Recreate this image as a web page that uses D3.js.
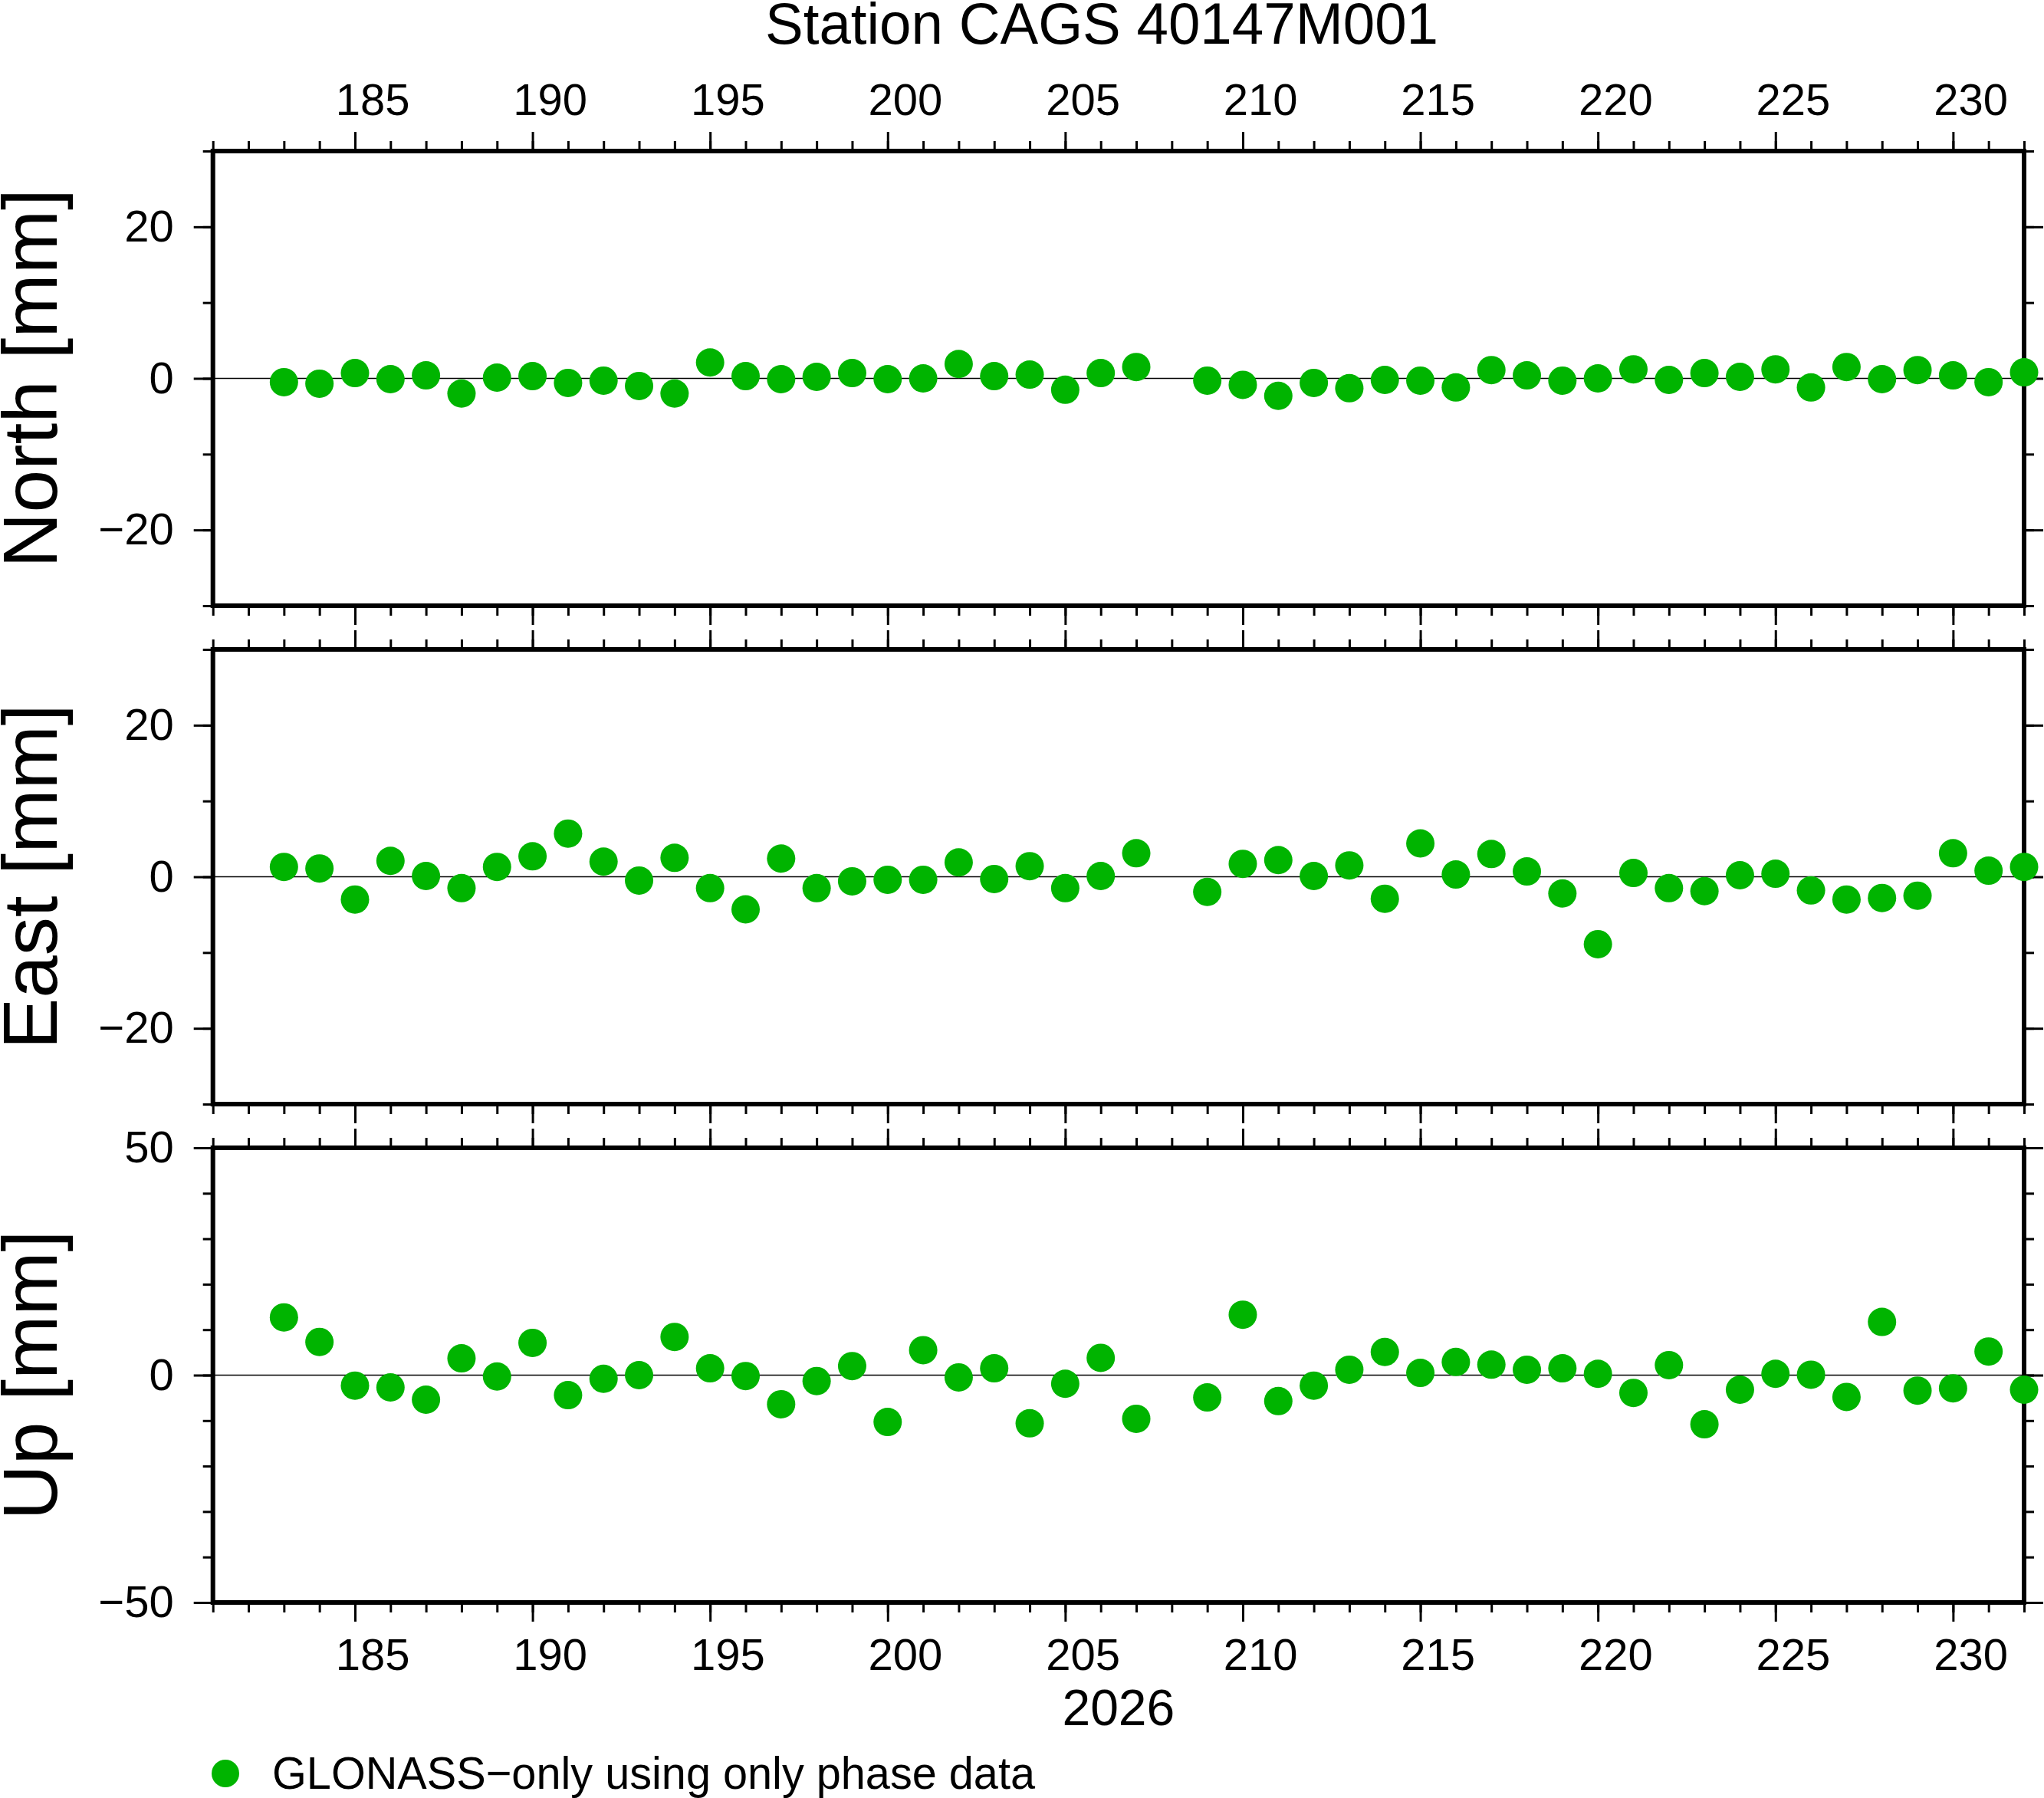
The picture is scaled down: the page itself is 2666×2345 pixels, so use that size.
<!DOCTYPE html>
<html lang="en">
<head>
    <meta charset="UTF-8">
    <title>Station CAGS 40147M001</title>
    <style>
        body {
            margin: 0;
            background: #fff;
        }
        svg {
            display: block;
            font-family: "Liberation Sans", Arial, Helvetica, sans-serif;
        }
        .tick line {
            stroke: #000;
            stroke-width: 3;
        }
    </style>
</head>
<body>
    <div id="chart"></div>

    <script src="https://d3js.org/d3.v7.min.js"></script>
    <script>
        // day of year 2026 (day 208 missing)
        const days = [183, 184, 185, 186, 187, 188, 189, 190, 191, 192, 193, 194, 195, 196, 197,
                      198, 199, 200, 201, 202, 203, 204, 205, 206, 207, 209, 210, 211, 212, 213,
                      214, 215, 216, 217, 218, 219, 220, 221, 222, 223, 224, 225, 226, 227, 228,
                      229, 230, 231, 232];

        const north = [-0.5, -0.7, 0.7, -0.1, 0.4, -2.0, 0.1, 0.3, -0.6, -0.3, -1.0, -2.0, 2.1, 0.3, -0.1,
                       0.2, 0.7, -0.1, 0.0, 1.9, 0.3, 0.5, -1.5, 0.7, 1.5, -0.3, -0.85, -2.3, -0.6, -1.3,
                       -0.2, -0.3, -1.2, 1.1, 0.4, -0.3, 0.0, 1.2, -0.2, 0.7, 0.2, 1.2, -1.2, 1.5, -0.1,
                       1.1, 0.4, -0.5, 0.8];

        const east = [1.3, 1.1, -3.0, 2.1, 0.1, -1.5, 1.3, 2.7, 5.7, 2.0, -0.5, 2.5, -1.5, -4.3, 2.4,
                      -1.5, -0.6, -0.4, -0.4, 1.9, -0.3, 1.4, -1.5, 0.1, 3.1, -2.0, 1.7, 2.2, 0.1, 1.5,
                      -2.9, 4.4, 0.3, 3.0, 0.7, -2.2, -8.9, 0.5, -1.5, -1.9, 0.2, 0.4, -1.8, -3.0, -2.8,
                      -2.5, 3.1, 0.8, 1.3];

        const up = [12.7, 7.3, -2.3, -2.7, -5.4, 3.7, -0.3, 7.1, -4.4, -0.8, 0.0, 8.4, 1.5, -0.2, -6.4,
                    -1.3, 2.0, -10.3, 5.5, -0.5, 1.5, -10.6, -1.9, 3.8, -9.6, -4.9, 13.3, -5.7, -2.3, 1.2,
                    5.1, 0.5, 2.9, 2.3, 1.2, 1.5, 0.3, -3.9, 2.2, -10.8, -3.2, 0.3, 0.1, -4.8, 11.7,
                    -3.4, -2.9, 5.2, -3.2];

        const xDomain = [181, 232];
        const xLabelDays = [185, 190, 195, 200, 205, 210, 215, 220, 225, 230];
        const neTicks = [-20, 0, 20];
        const upTicks = [-50, 0, 50];

        const title = "Station CAGS 40147M001";
        const yearLabel = "2026";
        const legendLabel = "GLONASS\u2212only using only phase data";
        const green = "#00b400";

        const panels = [
            {label: "North [mm]", values: north, domain: [-30, 30], ticks: neTicks, minor: 10},
            {label: "East [mm]",  values: east,  domain: [-30, 30], ticks: neTicks, minor: 10},
            {label: "Up [mm]",    values: up,    domain: [-50, 50], ticks: upTicks, minor: 10}
        ];

        const W = 2666, H = 2345;
        const left = 277.7, right = 2640;
        const panelTop = [197, 847, 1497];
        const panelH = 593;

        const svg = d3.select("#chart").append("svg")
            .attr("width", W)
            .attr("height", H);

        svg.append("rect").attr("width", W).attr("height", H).attr("fill", "#fff");

        const x = d3.scaleLinear().domain(xDomain).range([left, right]);
        const minorDays = d3.range(xDomain[0], xDomain[1] + 1);
        const majorDays = minorDays.filter(d => d % 5 === 0);

        function tickAxis(axis, values, size) {
            return axis.tickValues(values).tickSize(size).tickSizeOuter(0).tickFormat("");
        }

        panels.forEach((p, i) => {
            const top = panelTop[i], bottom = top + panelH;
            const y = d3.scaleLinear().domain(p.domain).range([bottom, top]);
            const g = svg.append("g");

            // zero line
            g.append("line")
                .attr("x1", left).attr("x2", right)
                .attr("y1", y(0)).attr("y2", y(0))
                .attr("stroke", "#000").attr("stroke-width", 1.5);

            // x ticks, top and bottom of every panel, outward
            [[d3.axisTop, top], [d3.axisBottom, bottom]].forEach(([ax, ty]) => {
                g.append("g").attr("transform", `translate(0,${ty})`)
                    .call(tickAxis(ax(x), minorDays, 13))
                    .call(s => s.select(".domain").remove());
                g.append("g").attr("transform", `translate(0,${ty})`)
                    .call(tickAxis(ax(x), majorDays, 25))
                    .call(s => s.select(".domain").remove());
            });

            // y ticks both sides
            const minorVals = d3.range(p.domain[0], p.domain[1] + 1, p.minor);
            [[d3.axisLeft, left], [d3.axisRight, right]].forEach(([ax, tx]) => {
                g.append("g").attr("transform", `translate(${tx},0)`)
                    .call(tickAxis(ax(y), minorVals, 13))
                    .call(s => s.select(".domain").remove());
                g.append("g").attr("transform", `translate(${tx},0)`)
                    .call(tickAxis(ax(y), p.ticks, 25))
                    .call(s => s.select(".domain").remove());
            });

            // y labels
            g.append("g").attr("transform", `translate(${left},0)`)
                .call(d3.axisLeft(y).tickValues(p.ticks).tickSize(0).tickPadding(51))
                .call(s => s.select(".domain").remove())
                .selectAll("text")
                .attr("font-size", 58)
                .attr("font-family", "Liberation Sans, Arial, sans-serif")
                .attr("fill", "#000");

            // frame
            g.append("rect")
                .attr("x", left).attr("y", top)
                .attr("width", right - left).attr("height", panelH)
                .attr("fill", "none").attr("stroke", "#000").attr("stroke-width", 6);

            // axis title
            svg.append("text")
                .attr("transform", `translate(74,${(top + bottom) / 2}) rotate(-90)`)
                .attr("text-anchor", "middle")
                .attr("font-size", 100)
                .text(p.label);

            // points
            g.selectAll("circle")
                .data(days.map((d, k) => ({d, v: p.values[k]})))
                .enter().append("circle")
                .attr("cx", d => x(d.d))
                .attr("cy", d => y(d.v))
                .attr("r", 18.5)
                .attr("fill", green);
        });

        // day labels, centred in the day interval
        const labelRows = [150, 2178];
        labelRows.forEach(by => {
            svg.append("g").selectAll("text")
                .data(xLabelDays)
                .enter().append("text")
                .attr("x", d => x(d + 0.5))
                .attr("y", by)
                .attr("text-anchor", "middle")
                .attr("font-size", 58)
                .text(d => d);
        });

        svg.append("text")
            .attr("x", 998).attr("y", 57)
            .attr("font-size", 76)
            .attr("textLength", 878)
            .attr("lengthAdjust", "spacingAndGlyphs")
            .text(title);

        svg.append("text")
            .attr("x", (left + right) / 2).attr("y", 2250)
            .attr("text-anchor", "middle")
            .attr("font-size", 66)
            .text(yearLabel);

        // legend
        svg.append("circle")
            .attr("cx", 294).attr("cy", 2313).attr("r", 18)
            .attr("fill", green);
        svg.append("text")
            .attr("x", 355).attr("y", 2333)
            .attr("font-size", 60)
            .attr("textLength", 995)
            .attr("lengthAdjust", "spacingAndGlyphs")
            .text(legendLabel);
    </script>
</body>
</html>
